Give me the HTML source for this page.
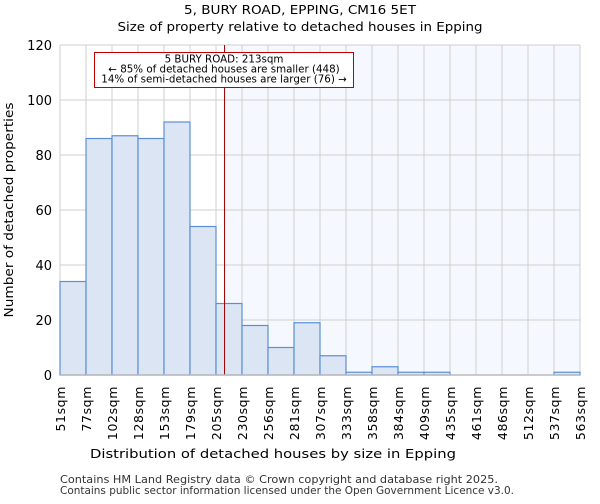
<!DOCTYPE html>
<html><head><meta charset="utf-8"><style>
body{margin:0;background:#fff;font-family:"DejaVu Sans","Liberation Sans",sans-serif;}
</style></head><body>
<svg width="600" height="500" xmlns="http://www.w3.org/2000/svg" font-family="DejaVu Sans, Liberation Sans, sans-serif">
<text x="300" y="14" text-anchor="middle" font-size="12.5" textLength="232" lengthAdjust="spacingAndGlyphs">5, BURY ROAD, EPPING, CM16 5ET</text>
<text x="300" y="31" text-anchor="middle" font-size="12.5" textLength="365" lengthAdjust="spacingAndGlyphs">Size of property relative to detached houses in Epping</text>
<g id="plot"></g>
<text x="273" y="458" text-anchor="middle" font-size="12.5" textLength="366" lengthAdjust="spacingAndGlyphs">Distribution of detached houses by size in Epping</text>
<text transform="translate(13,210) rotate(-90)" text-anchor="middle" font-size="12.5" textLength="215" lengthAdjust="spacingAndGlyphs">Number of detached properties</text>
<text x="60" y="483" font-size="10.5" fill="#333" textLength="438" lengthAdjust="spacingAndGlyphs">Contains HM Land Registry data © Crown copyright and database right 2025.</text>
<text x="60" y="494" font-size="10.5" fill="#333" textLength="454" lengthAdjust="spacingAndGlyphs">Contains public sector information licensed under the Open Government Licence v3.0.</text>
</svg>
<script>
const categories=["51sqm","77sqm","102sqm","128sqm","153sqm","179sqm","205sqm","230sqm","256sqm","281sqm","307sqm","333sqm","358sqm","384sqm","409sqm","435sqm","461sqm","486sqm","512sqm","537sqm","563sqm"];
const counts=[34,86,87,86,92,54,26,18,10,19,7,1,3,1,1,0,0,0,0,1];
const yTicks=[0,20,40,60,80,100,120];
const markerSqm=213;
const binStart=51,binWidth=25.6;
const X0=60,X1=580,Y0=375,Y1=45,YMAX=120;
const nb=counts.length;
const xs=i=>X0+(X1-X0)*i/nb;
const xv=v=>X0+(v-binStart)/(binWidth*nb)*(X1-X0);
const ys=v=>Y0-(Y0-Y1)*v/YMAX;
const NS="http://www.w3.org/2000/svg";
const g=document.getElementById('plot');
function mk(t,a){const e=document.createElementNS(NS,t);for(const k in a)e.setAttribute(k,a[k]);g.appendChild(e);return e;}
const mx=xv(markerSqm);
let e=mk('rect',{x:X0,y:Y1,width:X1-X0,height:Y0-Y1,fill:'#fff'});


e=mk('rect',{x:mx,y:Y1,width:X1-mx,height:Y0-Y1,fill:'#f5f8fe'});


for(let i=0;i<=nb;i++){e=mk('line',{x1:xs(i),x2:xs(i),y1:Y1,y2:Y0,stroke:'#cfcfcf','stroke-width':1});

}
yTicks.forEach(t=>{e=mk('line',{x1:X0,x2:X1,y1:ys(t),y2:ys(t),stroke:'#cfcfcf','stroke-width':1});


e=mk('text',{x:X0-8,y:ys(t)+5,'text-anchor':'end','font-size':13});e.textContent=t;

});
counts.forEach((c,i)=>{if(c<=0)return;e=mk('rect',{x:xs(i),y:ys(c),width:xs(i+1)-xs(i),height:Y0-ys(c),fill:'#dbe5f4',stroke:'#5b8fd6','stroke-width':1.2});

});
categories.forEach((c,i)=>{e=mk('text',{transform:`translate(${xs(i)+5},386) rotate(-90)`,'text-anchor':'end','font-size':12.5,'letter-spacing':'0.6'});e.textContent=c;

});
e=mk('line',{x1:mx,x2:mx,y1:Y1,y2:Y0,stroke:'#a00000','stroke-width':1});


e=mk('rect',{x:94.5,y:52.5,width:259,height:35,fill:'#fff',stroke:'#c00000','stroke-width':1});


["5 BURY ROAD: 213sqm","← 85% of detached houses are smaller (448)","14% of semi-detached houses are larger (76) →"].forEach((s,k)=>{e=mk('text',{x:224,y:62.5+k*10,'text-anchor':'middle','font-size':10.3});e.textContent=s;

});
e=mk('line',{x1:X0,x2:X1,y1:Y0,y2:Y0,stroke:'#bbb','stroke-width':1.5});


</script>
</body></html>
